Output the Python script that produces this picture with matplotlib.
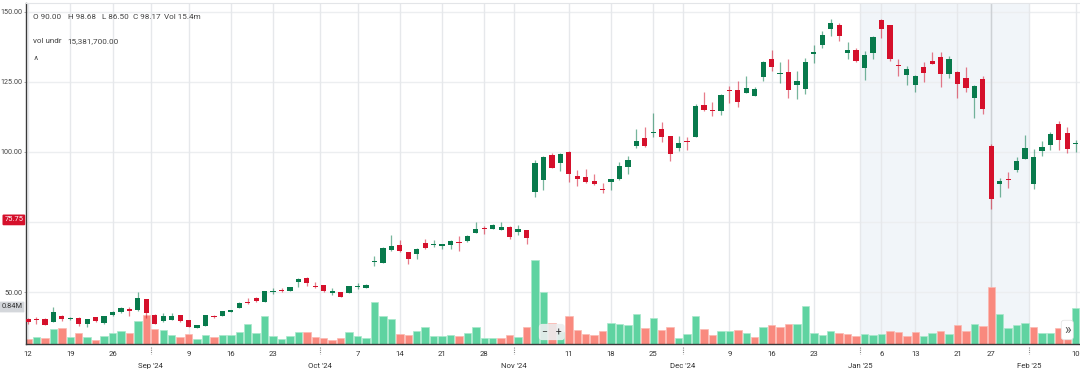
import numpy as np
import pandas as pd
import matplotlib
matplotlib.use("Agg")
import matplotlib.pyplot as plt
from matplotlib.transforms import blended_transform_factory as btf

plt.rcParams['font.family'] = ['Roboto', 'DejaVu Sans']

# ---------------- data ----------------
holidays = ['2024-09-02', '2024-11-28', '2024-12-25', '2025-01-01', '2025-01-09', '2025-01-20']
dates = pd.bdate_range('2024-08-12', '2025-02-10')
dates = dates[~dates.isin(pd.to_datetime(holidays))]

opens = [40.4, 40.5, 40.4, 39.4, 41.5, 40.5, 40.7, 38.6, 41.1, 39.1,
         41.7, 42.7, 43.9, 43.5, 47.5, 41.7, 39.5, 40.1, 41.7, 39.9,
         37.3, 38.0, 41.6, 41.4, 43.0, 44.4, 46.4, 48.0, 46.6, 50.1,
         50.6, 50.5, 53.6, 54.9, 52.3, 52.4, 49.6, 50.0, 49.8, 51.9,
         51.6, 60.6, 60.5, 64.9, 66.7, 64.2, 63.7, 67.6, 66.8, 66.6,
         66.8, 67.8, 68.1, 71.2, 72.8, 72.6, 72.1, 73.2, 71.4, 72.1,
         85.8, 90.0, 98.9, 96.0, 100.1, 91.5, 91.2, 89.8, 86.9, 89.3,
         90.2, 94.5, 102.1, 105.0, 106.8, 108.1, 105.6, 101.3, 104.0, 105.4,
         116.9, 115.1, 114.8, 122.2, 122.1, 121.2, 120.1, 126.9, 133.1, 127.8,
         128.7, 123.9, 122.6, 135.1, 138.1, 143.8, 145.2, 135.4, 136.4, 130.1,
         135.5, 147.1, 145.4, 131.2, 127.5, 123.9, 130.4, 132.5, 133.9, 128.0,
         128.6, 126.3, 119.4, 126.1, 102.1, 88.7, 90.4, 93.6, 97.6, 88.7,
         100.5, 102.6, 109.9, 106.8, 102.9]
highs = [40.8, 41.0, 40.6, 44.6, 41.9, 41.0, 41.0, 40.5, 41.2, 41.5,
         43.3, 44.8, 44.6, 49.9, 47.6, 42.0, 42.6, 42.5, 41.8, 40.1,
         38.2, 41.9, 41.8, 43.2, 43.7, 46.3, 48.0, 48.2, 50.5, 51.3,
         51.3, 51.9, 55.1, 55.4, 53.6, 52.5, 51.5, 50.1, 52.3, 53.1,
         53.0, 62.8, 66.0, 70.5, 68.5, 64.4, 65.7, 69.0, 68.5, 67.2,
         68.6, 70.0, 70.4, 75.0, 73.6, 74.4, 74.9, 73.4, 73.8, 72.3,
         97.1, 98.68, 99.7, 99.5, 100.4, 93.6, 93.9, 92.1, 88.9, 90.5,
         96.4, 98.6, 108.1, 108.9, 113.9, 110.8, 105.7, 105.6, 105.2, 117.1,
         121.3, 117.7, 120.6, 123.6, 125.4, 127.3, 123.1, 132.6, 136.4, 132.0,
         133.1, 128.8, 133.4, 138.2, 143.3, 147.5, 146.0, 139.2, 137.0, 136.2,
         141.4, 147.5, 145.5, 133.1, 130.6, 127.5, 132.0, 135.7, 135.6, 134.3,
         128.9, 130.5, 123.8, 127.1, 102.7, 90.6, 92.7, 98.2, 105.9, 100.9,
         103.9, 107.1, 111.1, 109.0, 104.3]
lows = [38.6, 38.7, 38.2, 39.3, 39.8, 40.1, 38.0, 37.6, 39.3, 38.7,
        41.4, 42.6, 41.3, 43.3, 40.6, 38.6, 39.3, 40.0, 39.4, 37.4,
        37.1, 37.9, 40.6, 41.3, 42.9, 44.2, 45.8, 46.5, 46.4, 49.2,
        49.9, 50.4, 51.8, 52.0, 51.6, 50.1, 48.8, 48.2, 49.5, 51.0,
        51.4, 59.2, 60.4, 64.6, 64.2, 60.1, 61.9, 65.4, 66.0, 65.4,
        65.2, 64.8, 67.9, 71.0, 70.7, 72.5, 72.0, 68.9, 70.2, 67.3,
        84.0, 86.5, 94.2, 93.3, 89.2, 87.9, 88.8, 88.1, 85.2, 86.4,
        90.0, 92.1, 101.3, 101.8, 105.2, 103.7, 96.8, 100.4, 100.7, 105.2,
        114.8, 112.9, 113.2, 117.4, 116.2, 121.0, 120.0, 125.5, 129.0, 124.8,
        119.4, 118.8, 120.7, 131.7, 137.3, 141.5, 139.5, 133.3, 132.0, 125.7,
        133.3, 140.6, 132.5, 127.1, 123.9, 121.5, 125.0, 131.4, 123.3, 126.3,
        119.4, 121.5, 112.3, 113.4, 79.5, 83.8, 87.3, 92.9, 97.4, 86.9,
        98.7, 100.7, 100.7, 99.5, 100.1]
closes = [39.4, 40.1, 38.3, 42.9, 40.5, 40.8, 38.7, 40.4, 39.5, 41.4,
          42.7, 44.3, 43.3, 47.9, 42.6, 38.7, 41.3, 41.5, 39.5, 37.5,
          38.1, 41.8, 41.1, 43.1, 43.6, 46.0, 46.2, 46.7, 50.2, 50.3,
          50.5, 51.8, 54.5, 53.1, 51.9, 50.4, 50.2, 48.3, 52.0, 52.1,
          52.6, 60.9, 65.8, 66.4, 64.6, 61.9, 65.2, 65.6, 67.0, 67.1,
          68.2, 67.5, 70.1, 72.5, 72.6, 74.0, 73.3, 69.8, 72.5, 69.3,
          96.0, 98.17, 94.4, 99.3, 92.1, 90.5, 89.2, 88.5, 86.3, 90.2,
          95.0, 97.2, 104.0, 102.0, 107.1, 105.4, 99.4, 103.2, 103.5, 116.5,
          115.1, 114.6, 120.4, 121.9, 118.0, 122.7, 122.5, 132.1, 130.5, 128.0,
          122.1, 125.4, 132.1, 135.7, 141.8, 146.1, 141.5, 136.4, 132.4, 134.8,
          141.2, 143.8, 133.3, 130.6, 129.6, 127.3, 128.3, 131.5, 127.7, 133.3,
          124.4, 123.0, 123.6, 115.5, 83.1, 89.6, 90.1, 96.8, 101.4, 98.1,
          101.8, 106.6, 104.3, 101.1, 103.3]
volumes = [1.57, 2.16, 1.86, 4.53, 4.82, 2.16, 3.26, 2.07, 1.27, 2.37,
           3.17, 3.85, 3.34, 6.72, 8.58, 4.35, 4.23, 2.66, 2.16, 2.87,
           1.57, 2.66, 2.07, 2.75, 2.75, 3.46, 6.01, 3.26, 8.29, 2.37,
           1.57, 2.37, 3.55, 3.55, 2.16, 1.78, 1.27, 1.69, 3.55, 2.37,
           1.69, 12.52, 8.20, 7.49, 2.96, 2.75, 3.94, 5.12, 2.37, 2.37,
           2.75, 2.37, 3.26, 5.12, 1.69, 1.86, 1.86, 2.66, 2.16, 5.12,
           24.86, 15.39, 6.22, 3.55, 8.29, 4.23, 2.96, 2.75, 3.85, 6.22,
           5.92, 5.62, 8.97, 4.74, 7.70, 4.14, 5.03, 1.86, 2.96, 8.20,
           4.53, 2.66, 3.94, 3.85, 4.06, 3.26, 2.07, 5.03, 5.62, 5.03,
           5.83, 6.01, 11.34, 3.26, 2.66, 3.85, 3.26, 2.96, 2.37, 2.96,
           2.66, 3.05, 3.85, 3.46, 2.37, 3.55, 2.37, 3.17, 3.94, 3.05,
           5.54, 3.85, 5.92, 5.33, 16.78, 8.88, 4.74, 5.54, 6.22, 5.03,
           3.17, 3.17, 4.82, 4.14, 10.74]

day_tick_dates = ['2024-08-12', '2024-08-19', '2024-08-26', '2024-09-09', '2024-09-16',
                  '2024-09-23', '2024-10-07', '2024-10-14', '2024-10-21', '2024-10-28',
                  '2024-11-11', '2024-11-18', '2024-11-25', '2024-12-09', '2024-12-16',
                  '2024-12-23', '2025-01-06', '2025-01-13', '2025-01-21', '2025-01-27',
                  '2025-02-10']
month_starts = ['2024-09-01', '2024-10-01', '2024-11-01', '2024-12-01', '2025-01-01', '2025-02-01']
month_labels = ["Sep '24", "Oct '24", "Nov '24", "Dec '24", "Jan '25", "Feb '25"]
price_ticks = [50, 100, 125, 150]
price_grid = [50, 75, 100, 125, 150]
shade_from, shade_to = '2025-01-01', '2025-02-01'
crosshair_date = '2025-01-27'
last_price_label = 75.75

# ---------------- figure ----------------
W, H = 1080, 375
fig = plt.figure(figsize=(W / 100, H / 100), dpi=100)
fig.patch.set_facecolor('white')
rect = [26 / W, 31 / H, 1054 / W, 341 / H]
axv = fig.add_axes(rect)
ax = fig.add_axes(rect, sharex=axv)
ax.patch.set_visible(False)

o = np.array(opens); h = np.array(highs); l = np.array(lows); c = np.array(closes)
v = np.array(volumes)
x = np.arange(len(dates))

def pos_of(d):
    return int(np.searchsorted(dates, pd.Timestamp(d)))

def boundary(d):
    return pos_of(d) - 0.5

GREEN, RED = '#087a4c', '#d5102b'
VGREEN, VRED = '#5fd3a1', '#f9897e'

# shading + grid (bottom axes)
axv.axvspan(boundary(shade_from), boundary(shade_to), color='#f1f5f9', zorder=0, lw=0)
hb = btf(axv.transAxes, ax.transData)
for g in price_grid:
    axv.plot([0, 1], [g, g], transform=hb, color='#eceef0', lw=1, zorder=0.5)

# volume
prev = np.concatenate([[o[0]], c[:-1]])
vup = c >= prev
axv.bar(x, v, width=0.88, color=np.where(vup, VGREEN, VRED),
        edgecolor=np.where(vup, '#a9e8cb', '#fbb9b2'), linewidth=0.5, zorder=2)
axv.set_ylim(0, 101)

# candles
up = c >= o
ccol = np.where(up, GREEN, RED)
ax.vlines(x, l, h, colors=ccol, lw=0.9, alpha=0.55, zorder=3)
ax.bar(x, np.maximum(np.abs(c - o), 0.35), bottom=np.minimum(o, c), width=0.62,
       color=ccol, linewidth=0, zorder=4)

ax.set_xlim(-0.24, 124.5)
ax.set_ylim(31.43, 153.21)

# x ticks
day_pos = [pos_of(d) for d in day_tick_dates]
day_lab = [str(pd.Timestamp(d).day) for d in day_tick_dates]
mon_pos = [boundary(d) for d in month_starts]
ax.set_xticks(day_pos, day_lab)
ax.set_xticks(mon_pos, month_labels, minor=True)
ax.tick_params(axis='x', which='major', length=0, pad=5, labelsize=5.6, labelcolor='#333')
ax.tick_params(axis='x', which='minor', length=0, pad=14, labelsize=5.6, labelcolor='#333')
axv.tick_params(axis='x', which='both', labelbottom=False, length=0)
axv.grid(axis='x', which='both', color='#e6e8eb', lw=1, zorder=0.6)
axv.set_axisbelow(True)
axv.set_yticks([])
vt = btf(ax.transData, ax.transAxes)
for mp in mon_pos:
    ax.plot([mp, mp], [-0.01, -0.03], transform=vt, color='#888', lw=0.8,
            ls=(0, (1, 1)), clip_on=False)
cx = pos_of(crosshair_date)
axv.plot([cx, cx], [0, 1], transform=btf(axv.transData, axv.transAxes),
         color='#cdd1d5', lw=1, zorder=0.7)

# y ticks
ax.set_yticks(price_ticks, [f'{t:.2f}' for t in price_ticks])
ax.tick_params(axis='y', length=1.5, width=0.6, color='#999', pad=1, labelsize=5.2,
               labelcolor='#444')
yt = btf(ax.transAxes, ax.transData)
ax.text(-0.0025, last_price_label, f'{last_price_label:.2f}', transform=yt, ha='right',
        va='center', fontsize=5.4, color='white',
        bbox=dict(boxstyle='round,pad=0.25,rounding_size=0.15', fc=RED, ec='none'))

# spines
ax.spines['right'].set_visible(False)
ax.spines['top'].set_color('#e3e5e8')
ax.spines['left'].set_color('#3a3a3a')
ax.spines['bottom'].set_color('#3a3a3a')
ax.spines['left'].set_linewidth(1)
ax.spines['bottom'].set_linewidth(1)
for s in axv.spines.values():
    s.set_visible(False)

def px(xp, yp):
    return xp / W, 1 - yp / H

fig.text(*px(1.5, 307), '0.84M', ha='left', va='center', fontsize=5.4, color='#333',
         bbox=dict(boxstyle='round,pad=0.25,rounding_size=0.1', fc='#d4d7db', ec='none'))

# top-left legend
info = [(33, 'O 90.00'), (68, 'H 98.68'), (102, 'L 86.50'), (133, 'C 98.17'), (164, 'Vol 15.4m')]
for xp, t in info:
    fig.text(*px(xp, 17), t, ha='left', va='center', fontsize=5.9, color='#444')
fig.text(*px(33, 41), 'vol undr', ha='left', va='center', fontsize=5.9, color='#444')
fig.text(*px(67, 41), '15,381,700.00', ha='left', va='center', fontsize=5.9, color='#444')
fig.text(*px(34, 61), '^', ha='left', va='center', fontsize=7.5, color='#555')

# overlay buttons
fig.text(*px(542, 332), '\u2212   +', ha='left', va='center', fontsize=7.5, color='#333',
         bbox=dict(boxstyle='round,pad=0.3', fc='#eceeef', ec='none', alpha=0.9))
fig.text(*px(1064, 330), '\u00bb', ha='left', va='center', fontsize=10, color='#555',
         bbox=dict(boxstyle='round,pad=0.2', fc='white', ec='#e0e0e0', lw=0.5))

fig.savefig('out.png', dpi=100, facecolor='white')
